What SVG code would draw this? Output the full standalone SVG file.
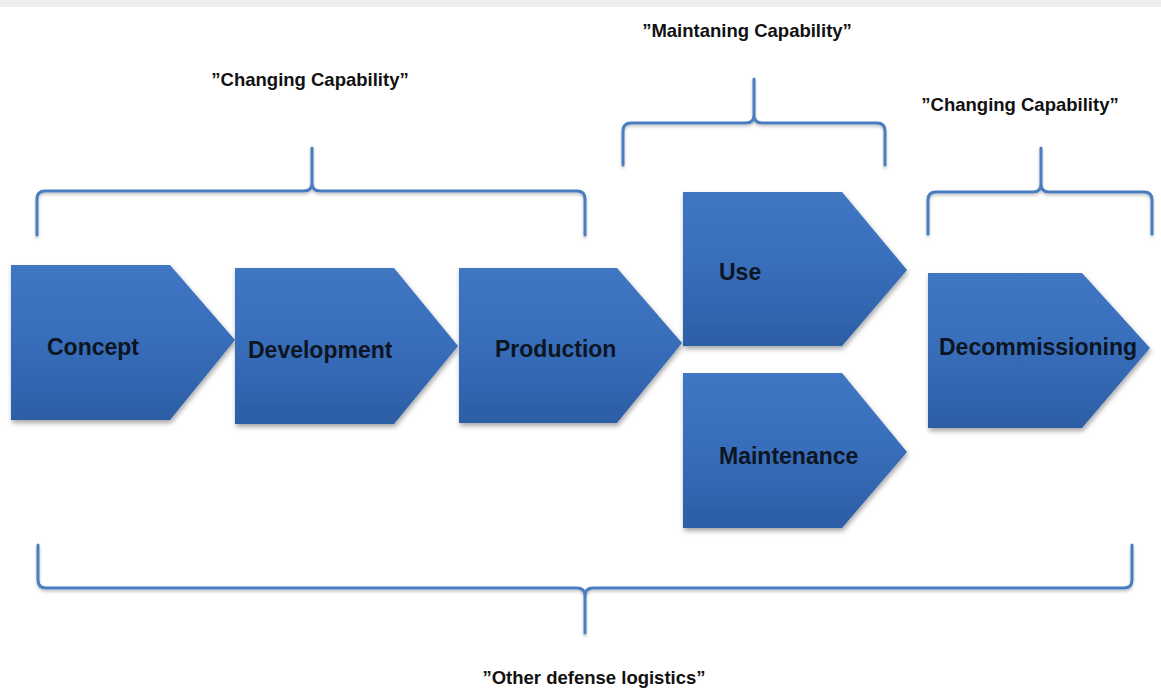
<svg xmlns="http://www.w3.org/2000/svg" width="1161" height="689" viewBox="0 0 1161 689">
<defs>
<linearGradient id="blue" x1="0" y1="0" x2="0" y2="1">
<stop offset="0" stop-color="#3f76c2"/>
<stop offset="0.5" stop-color="#386dba"/>
<stop offset="1" stop-color="#2c5ea6"/>
</linearGradient>
<filter id="sh" x="-10%" y="-10%" width="125%" height="130%">
<feDropShadow dx="1" dy="3" stdDeviation="2.5" flood-color="#000" flood-opacity="0.35"/>
</filter>
<filter id="bsh" x="-5%" y="-20%" width="110%" height="150%">
<feDropShadow dx="0" dy="2" stdDeviation="1.5" flood-color="#000" flood-opacity="0.25"/>
</filter>
</defs>
<style>
.shape{fill:url(#blue);filter:url(#sh)}
.lbl{font-family:"Liberation Sans",Arial,sans-serif;font-weight:bold;font-size:23px;fill:#0c1522}
.cap{font-family:"Liberation Sans",Arial,sans-serif;font-weight:bold;font-size:18.5px;fill:#111}
.brace{fill:none;stroke:#4a7dc0;stroke-width:3;stroke-linejoin:round;stroke-linecap:round;filter:url(#bsh)}
</style>
<rect x="0" y="0" width="1161" height="689" fill="#ffffff"/>
<rect x="0" y="0" width="1161" height="7" fill="#eeeeee"/>

<g id="concept">
<polygon class="shape" points="11,265 170,265 235,340 170,420 11,420"/>
<text class="lbl" x="47" y="355">Concept</text>
</g>
<g id="development">
<polygon class="shape" points="235,268 394,268 458,346 394,424 235,424"/>
<text class="lbl" x="248" y="358">Development</text>
</g>
<g id="production">
<polygon class="shape" points="459,268 617,268 682,343 617,423 459,423"/>
<text class="lbl" x="495" y="357">Production</text>
</g>
<g id="use">
<polygon class="shape" points="683,192 842,192 907,270 842,346 683,346"/>
<text class="lbl" x="719" y="280">Use</text>
</g>
<g id="maintenance">
<polygon class="shape" points="683,373 842,373 907,452 842,528 683,528"/>
<text class="lbl" x="719" y="464">Maintenance</text>
</g>
<g id="decommissioning">
<polygon class="shape" points="928,273 1082,273 1150,348 1082,428 928,428"/>
<text class="lbl" x="939" y="355">Decommissioning</text>
</g>

<g id="connectors">
<path class="brace" d="M37,235 V199 Q37,191 45,191 H304 Q312,191 312,183 V148 V183 Q312,191 320,191 H577 Q585,191 585,199 V235"/>
<path class="brace" d="M623,165 V131 Q623,123 631,123 H746 Q754,123 754,115 V79 V115 Q754,123 762,123 H877 Q885,123 885,131 V165"/>
<path class="brace" d="M928,234 V200 Q928,192 936,192 H1033 Q1041,192 1041,184 V148 V184 Q1041,192 1049,192 H1144 Q1152,192 1152,200 V234"/>
<path class="brace" d="M38,545 V580 Q38,588 46,588 H577 Q585,588 585,596 V633 V596 Q585,588 593,588 H1124 Q1132,588 1132,580 V545"/>
</g>

<g id="labels">
<text class="cap" x="310" y="86" text-anchor="middle">”Changing Capability”</text>
<text class="cap" x="747" y="37" text-anchor="middle">”Maintaning Capability”</text>
<text class="cap" x="1020" y="111" text-anchor="middle">”Changing Capability”</text>
<text class="cap" x="594" y="684" text-anchor="middle">”Other defense logistics”</text>
</g>
</svg>
